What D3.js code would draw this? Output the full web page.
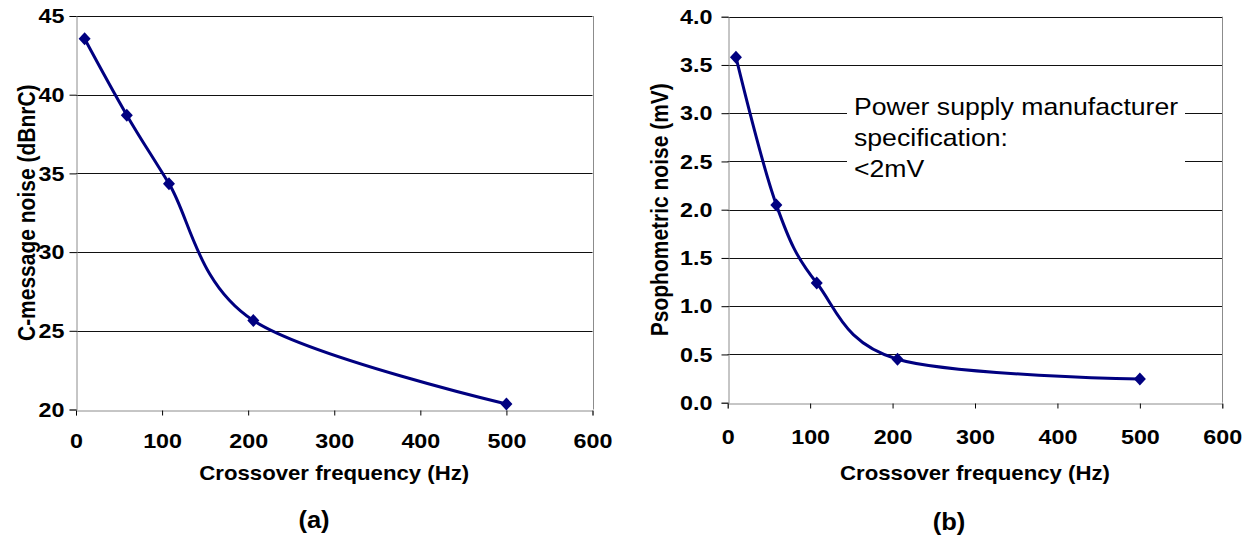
<!DOCTYPE html>
<html>
<head>
<meta charset="utf-8">
<script src="https://cdn.jsdelivr.net/npm/d3@7"></script>
<style>
  html, body { margin: 0; padding: 0; background: #fff; }
  text { font-family: "Liberation Sans", Arial, sans-serif; }
</style>
</head>
<body>
<svg id="chart" width="1249" height="536"></svg>
<script>
// ---- data ----
const frequencies = [10, 59, 108, 206, 500];              // Crossover frequency (Hz)
const cMessageNoise = [43.55, 38.7, 34.35, 25.65, 20.35]; // (a) dBnrC
const psophometricNoise = [3.58, 2.05, 1.24, 0.45, 0.245]; // (b) mV
const xTicks = [0, 100, 200, 300, 400, 500, 600];
const yTicksA = [20, 25, 30, 35, 40, 45];
const yTicksB = [0, 0.5, 1, 1.5, 2, 2.5, 3, 3.5, 4];
const xTitle = "Crossover frequency (Hz)";
const yTitleA = "C-message noise (dBnrC)";
const yTitleB = "Psophometric noise (mV)";
const annotationLines = ["Power supply manufacturer", "specification:", "<2mV"];

const SX = 1.11; // horizontal glyph stretch seen in the reference
const svg = d3.select("#chart");
svg.append("rect").attr("width", 1249).attr("height", 536).attr("fill", "#fff");

function stretch(sel) {
  sel.attr("transform", function () {
    const x = +this.getAttribute("x") || 0;
    return `translate(${x},0) scale(${SX},1) translate(${-x},0)`;
  });
}

function panel(cfg) {
  const g = svg.append("g");
  const x = d3.scaleLinear().domain([0, 600]).range([cfg.left, cfg.right]);
  const y = d3.scaleLinear().domain(cfg.yDomain).range([cfg.bottom, cfg.top]);

  // gridlines
  g.append("g").selectAll("line").data(cfg.yTicks.filter(t => t !== cfg.yDomain[0]))
    .join("line")
    .attr("x1", cfg.left).attr("x2", cfg.right)
    .attr("y1", d => Math.round(y(d)) + 0.5).attr("y2", d => Math.round(y(d)) + 0.5)
    .attr("stroke", "#111").attr("stroke-width", 1);

  // annotation box (hides gridlines)
  if (cfg.annotation) {
    const a = cfg.annotation;
    g.append("rect").attr("x", a.x0).attr("y", a.y0)
      .attr("width", a.x1 - a.x0).attr("height", a.y1 - a.y0).attr("fill", "#fff");
    g.append("g").selectAll("text").data(a.lines).join("text")
      .attr("x", a.tx).attr("y", (d, i) => a.ty + i * a.lh)
      .attr("font-size", a.fs).attr("fill", "#000")
      .text(d => d)
      .call(stretch);
  }

  // plot border (right)
  g.append("line").attr("x1", Math.round(cfg.right) + 0.5).attr("x2", Math.round(cfg.right) + 0.5)
    .attr("y1", cfg.top).attr("y2", cfg.bottom).attr("stroke", "#8c8c8c");

  // y axis
  const yAxis = d3.axisLeft(y).tickValues(cfg.yTicks).tickSize(7).tickPadding(cfg.yPad)
    .tickFormat(cfg.yFormat);
  const ya = g.append("g").attr("transform", `translate(${Math.round(cfg.left) + 0.5},0)`).call(yAxis);
  ya.select(".domain").attr("stroke", "#8c8c8c");
  ya.selectAll(".tick line").attr("stroke", "#000");
  ya.selectAll(".tick text").attr("font-size", 21).attr("font-weight", "bold")
    .attr("font-family", "Liberation Sans, Arial, sans-serif").attr("fill", "#000")
    .call(stretch);

  // x axis
  const xAxis = d3.axisBottom(x).tickValues(xTicks).tickSize(5).tickPadding(cfg.xPad)
    .tickFormat(d3.format("d"));
  const xa = g.append("g").attr("transform", `translate(0,${Math.round(cfg.bottom) + 0.5})`).call(xAxis);
  xa.select(".domain").attr("stroke", "#8c8c8c");
  xa.selectAll(".tick line").attr("stroke", "#000");
  xa.selectAll(".tick text").attr("font-size", 21).attr("font-weight", "bold")
    .attr("font-family", "Liberation Sans, Arial, sans-serif").attr("fill", "#000")
    .call(stretch);

  // smoothed line
  const pts = frequencies.map((f, i) => [f, cfg.values[i]]);
  const line = d3.line().x(d => x(d[0])).y(d => y(d[1])).curve(d3.curveCardinal.tension(0));
  g.append("path").datum(pts).attr("d", line)
    .attr("fill", "none").attr("stroke", "#000080").attr("stroke-width", 3);

  // markers
  g.append("g").selectAll("path").data(pts).join("path")
    .attr("transform", d => `translate(${x(d[0])},${y(d[1])})`)
    .attr("d", "M0,-6.5L6,0L0,6.5L-6,0Z")
    .attr("fill", "#000080");

  // titles
  g.append("text").attr("transform", `translate(${(cfg.left + cfg.right) / 2},480) scale(${SX},1)`)
    .attr("text-anchor", "middle").attr("font-size", 20).attr("font-weight", "bold")
    .text(xTitle);
  g.append("text")
    .attr("transform", `translate(${cfg.yTitleX},${(cfg.top + cfg.bottom) / 2}) scale(${SX},1) rotate(-90)`)
    .attr("text-anchor", "middle").attr("font-size", 21).attr("font-weight", "bold")
    .text(cfg.yTitle);
  g.append("text").attr("transform", `translate(${cfg.capX},${cfg.capY}) scale(${SX},1)`)
    .attr("text-anchor", "middle").attr("font-size", 23).attr("font-weight", "bold")
    .text(cfg.caption);
}

panel({
  left: 76, right: 592.5, top: 16, bottom: 409.5,
  yDomain: [20, 45], yTicks: yTicksA, yFormat: d3.format("d"),
  values: cMessageNoise, yTitle: yTitleA, yTitleX: 35,
  yPad: 5, xPad: 18,
  caption: "(a)", capX: 314, capY: 528
});

panel({
  left: 727.7, right: 1222.3, top: 16.7, bottom: 402.7,
  yDomain: [0, 4], yTicks: yTicksB, yFormat: d3.format(".1f"),
  values: psophometricNoise, yTitle: yTitleB, yTitleX: 668,
  yPad: 9, xPad: 21,
  caption: "(b)", capX: 949, capY: 530,
  annotation: { x0: 847, x1: 1185, y0: 88, y1: 190, tx: 854, ty: 115, lh: 31, fs: 24, lines: annotationLines }
});
</script>
</body>
</html>
